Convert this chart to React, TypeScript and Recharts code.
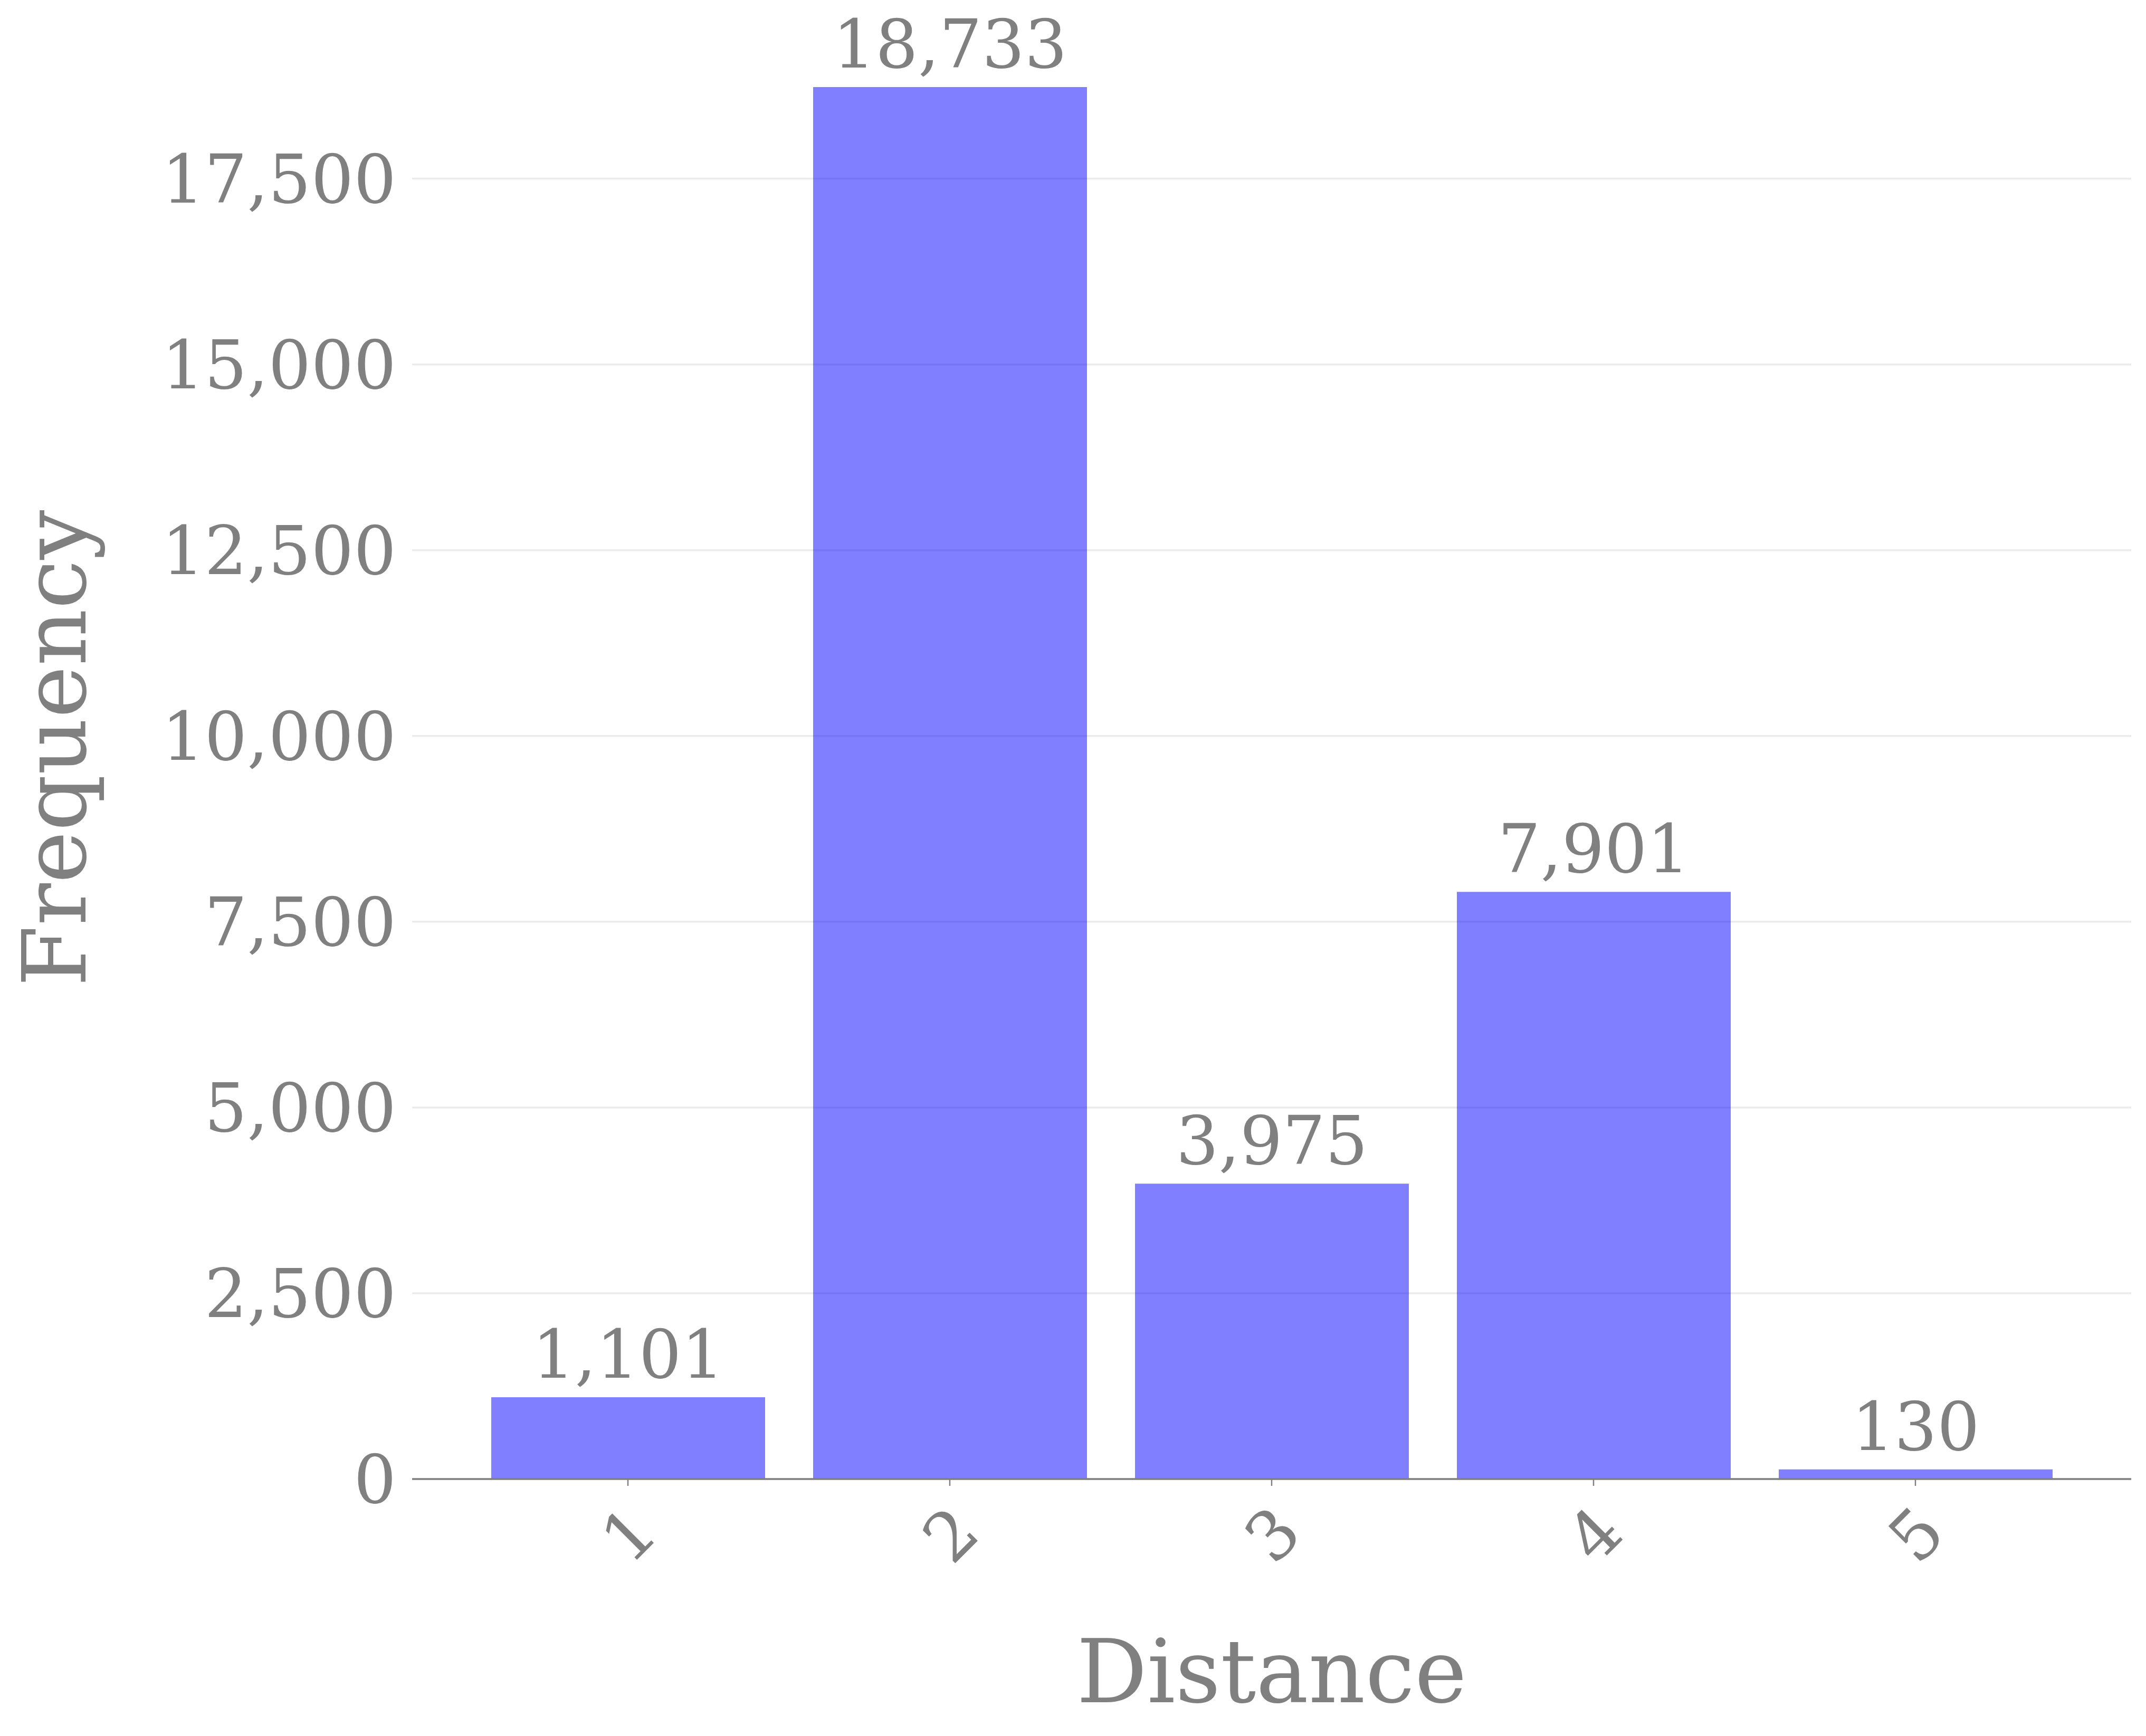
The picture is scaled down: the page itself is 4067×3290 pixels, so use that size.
import { Bar, BarChart, CartesianGrid, Label, LabelList, XAxis, YAxis } from "recharts";

const distances = ["1", "2", "3", "4", "5"];
const frequencies = [1101, 18733, 3975, 7901, 130];
const yTicks = [0, 2500, 5000, 7500, 10000, 12500, 15000, 17500];

const GREY = "#808080";
const FONT = "DejaVu Serif";

const data = distances.map((distance, i) => ({
  distance,
  frequency: frequencies[i],
}));

const fmt = (v: number | string) => Number(v).toLocaleString("en-US");

function RotatedTick({ x, y, payload }: { x?: number; y?: number; payload?: { value: string } }) {
  return (
    <text
      x={x}
      y={y}
      dy="0.365em"
      textAnchor="middle"
      transform={`rotate(-45, ${x}, ${y})`}
      fill={GREY}
      fontSize={128}
      fontFamily={FONT}
    >
      {payload?.value}
    </text>
  );
}

export default function App() {
  return (
    <div style={{ position: "absolute", left: 0, top: 0, background: "#fff" }}>
      <BarChart
        accessibilityLayer={false}
        width={4067}
        height={3290}
        data={data}
        margin={{ top: 33, right: 28, left: 0, bottom: 0 }}
      >
        <CartesianGrid
          vertical={false}
          horizontalValues={yTicks}
          stroke="#ebebeb"
          strokeWidth={3.5}
        />
        <XAxis
          dataKey="distance"
          height={487}
          padding={{ left: 104, right: 104 }}
          axisLine={{ stroke: GREY, strokeWidth: 3.3 }}
          tickLine={{ stroke: GREY, strokeWidth: 2.5 }}
          tickSize={13}
          tickMargin={91}
          tick={<RotatedTick />}
        >
          <Label
            content={({ viewBox }: any) => (
              <text
                x={viewBox.x + viewBox.width / 2}
                y={viewBox.y + 423}
                textAnchor="middle"
                fill={GREY}
                fontSize={167}
                fontFamily={FONT}
              >
                Distance
              </text>
            )}
          />
        </XAxis>
        <YAxis
          width={781}
          domain={[0, 19670]}
          ticks={yTicks}
          axisLine={false}
          tickLine={false}
          tickSize={0}
          tickMargin={30}
          tickFormatter={fmt}
          tick={{ fill: GREY, fontSize: 127, fontFamily: FONT }}
        >
          <Label
            content={({ viewBox }: any) => {
              const cx = viewBox.x + 162;
              const cy = viewBox.y + viewBox.height / 2;
              return (
                <text
                  x={cx}
                  y={cy}
                  textAnchor="middle"
                  transform={`rotate(-90, ${cx}, ${cy})`}
                  fill={GREY}
                  fontSize={167}
                  fontFamily={FONT}
                >
                  Frequency
                </text>
              );
            }}
          />
        </YAxis>
        <Bar
          dataKey="frequency"
          fill="#0000ff"
          fillOpacity={0.5}
          barSize={519}
          isAnimationActive={false}
        >
          <LabelList
            dataKey="frequency"
            position="top"
            offset={37}
            formatter={fmt}
            fill={GREY}
            fontSize={127}
            fontFamily={FONT}
          />
        </Bar>
      </BarChart>
    </div>
  );
}
